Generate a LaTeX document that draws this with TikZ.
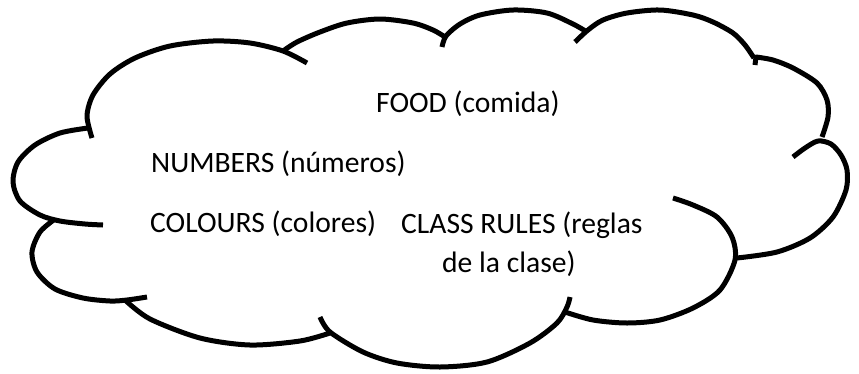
\documentclass[tikz,border=0pt]{standalone}
\usepackage{fontspec}
\setmainfont{Carlito}
\usepackage{tikz}

\tikzset{
  lobe/.style={line width=5pt, line join=round},
  label/.style={anchor=base west, inner sep=0pt, font=\fontsize{29.6}{39}\selectfont}
}

\begin{document}
\begin{tikzpicture}[x=1pt, y=-1pt]
  \useasboundingbox (0,0) rectangle (859,373);

  % cloud outline, one arc per lobe
  \draw[lobe] plot[smooth] coordinates {(92,138) (87,116) (93,95) (110,74) (135,58) (170,46) (213,41) (250,43) (283,51) (307,63)};
  \draw[lobe] plot[smooth] coordinates {(283,51) (297,42) (320,32) (347,23) (380,19) (413,23) (433,30) (445,37)};
  \draw[lobe] plot[smooth] coordinates {(442,47) (446,36) (460,24) (480,15) (513,10) (547,13) (573,24) (587,32)};
  \draw[lobe] plot[smooth] coordinates {(754,58) (745,45) (733,33) (713,22) (693,15) (660,10) (627,13) (603,20) (588,30) (575,42)};
  \draw[lobe] plot[smooth] coordinates {(822,137) (828,117) (827,100) (817,83) (793,68) (773,60) (756,57)} -- (755,65);
  \draw[lobe] plot[smooth] coordinates {(737,258) (777,252) (810,238) (833,217) (846,190) (847,170) (841,155) (831,144) (818,141) (805,148) (793,157)};
  \draw[lobe] plot[smooth] coordinates {(565,312) (593,320) (627,323) (660,320) (693,308) (720,290) (735,260) (732,237) (717,217) (693,205) (673,198)};
  \draw[lobe] plot[smooth] coordinates {(320,317) (330,332) (363,352) (397,363) (440,367) (487,362) (530,343) (557,323) (567,307) (570,297)};
  \draw[lobe] plot[smooth] coordinates {(125,300) (150,319) (200,338) (250,345) (300,341) (330,333)};
  \draw[lobe] plot[smooth] coordinates {(55,219) (40,232) (32,252) (37,272) (55,289) (83,298) (110,301) (127,300) (147,297)};
  \draw[lobe] plot[smooth] coordinates {(88,128) (60,133) (35,145) (18,162) (13,182) (20,201) (40,215) (60,221) (85,224) (103,225)};

  % topics
  \node[label] (food) at (376,112) {FOOD (comida)};
  \node[label] (numbers) at (151,172) {NUMBERS (números)};
  \node[label] (colours) at (150,232) {COLOURS (colores)};
  \node[label] (rules) at (401,233) {CLASS RULES (reglas};
  \node[label] (rulestwo) at (442,272) {de la clase)};
\end{tikzpicture}
\end{document}
